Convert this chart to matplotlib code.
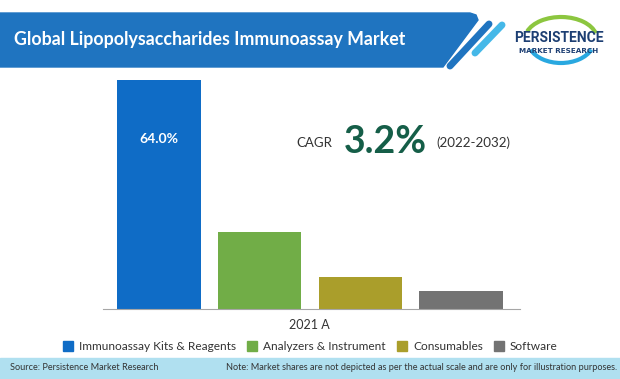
import matplotlib.pyplot as plt
from matplotlib.patches import Polygon, Rectangle, Arc

categories = ["Immunoassay Kits & Reagents", "Analyzers & Instrument", "Consumables", "Software"]
shares = [64.0, 21.5, 9.0, 5.0]
colors = ["#0f6cc6", "#71ad47", "#aa9e2b", "#737373"]
year_label = "2021 A"
cagr = "3.2%"
cagr_period = "(2022-2032)"

W, H = 620, 379
fig = plt.figure(figsize=(W / 100, H / 100), dpi=100)
plt.rcParams['font.family'] = ['Lato', 'DejaVu Sans']


def fx(px):
    return px / W


def fy(py):
    return 1 - py / H


# title banner
banner = Polygon([(fx(0), fy(13)), (fx(470), fy(13)), (fx(476), fy(15)), (fx(478), fy(20)),
                  (fx(443), fy(67)), (fx(0), fy(67))],
                 closed=True, transform=fig.transFigure, color="#1f74c0", zorder=1)
fig.patches.append(banner)
fig.add_artist(plt.Line2D([fx(450), fx(489)], [fy(66), fy(24)], transform=fig.transFigure,
                          color="#1f74c0", lw=5, solid_capstyle="round"))
fig.add_artist(plt.Line2D([fx(475), fx(502)], [fy(53), fy(25)], transform=fig.transFigure,
                          color="#45b8e8", lw=5, solid_capstyle="round"))
fig.text(fx(14), fy(39), "Global Lipopolysaccharides Immunoassay Market", color="white",
         fontsize=12.8, fontweight="bold", va="center", ha="left")

# logo
fig.add_artist(Arc((fx(561), fy(39)), fx(72), 44 / H, theta1=15, theta2=160,
                   transform=fig.transFigure, color="#8cc63f", lw=3))
fig.add_artist(Arc((fx(561), fy(41)), fx(66), 44 / H, theta1=205, theta2=335,
                   transform=fig.transFigure, color="#29a8e0", lw=3))
fig.text(fx(559), fy(38), "PERSISTENCE", color="#1d3f73", fontsize=10, fontweight="bold",
         family=["Roboto", "DejaVu Sans"], ha="center", va="center")
fig.text(fx(559), fy(51), "MARKET RESEARCH", color="#1d3f73", fontsize=5.2, fontweight="bold",
         family="DejaVu Sans", ha="center", va="center")

# bars
ax = fig.add_axes([fx(103), fy(309), fx(417), (309 - 70) / H])
x = range(len(shares))
ax.bar(x, shares, width=0.83, color=colors)
ax.set_xlim(-0.556, 3.586)
ax.set_ylim(0, 64 * 239 / 229)
for s in ["top", "right", "left"]:
    ax.spines[s].set_visible(False)
ax.spines["bottom"].set_color("#a6a6a6")
ax.set_yticks([])
ax.set_xticks([])
ax.text(0, 47.5, f"{shares[0]:.1f}%", color="white", fontsize=10, fontweight="bold",
        ha="center", va="center")

fig.text(fx(314), fy(143), "CAGR", color="#333333", fontsize=9.5, ha="center", va="center")
fig.text(fx(385), fy(142), cagr, color="#155e48", fontsize=27, fontweight="bold",
         ha="center", va="center")
fig.text(fx(473), fy(143), cagr_period, color="#333333", fontsize=9.6, ha="center", va="center")
fig.text(fx(309), fy(325), year_label, color="#333333", fontsize=9, ha="center", va="center")

# legend
sq_x = [63, 247, 397, 494]
for c, lab, sx in zip(colors, categories, sq_x):
    fig.patches.append(Rectangle((fx(sx), fy(351)), fx(10), 10 / H, transform=fig.transFigure,
                                 color=c))
    fig.text(fx(sx + 16), fy(346), lab, fontsize=8.6, color="#333333", va="center", ha="left")

# footer
fig.patches.append(Rectangle((0, 0), 1, fy(358), transform=fig.transFigure,
                             color="#b0e0f0", zorder=0))
fig.text(fx(10), fy(368), "Source: Persistence Market Research", fontsize=6.6,
         color="#333333", va="center")
fig.text(fx(617), fy(368),
         "Note: Market shares are not depicted as per the actual scale and are only for illustration purposes.",
         fontsize=6.6, color="#333333", va="center", ha="right")

fig.savefig("out.png", dpi=100)
